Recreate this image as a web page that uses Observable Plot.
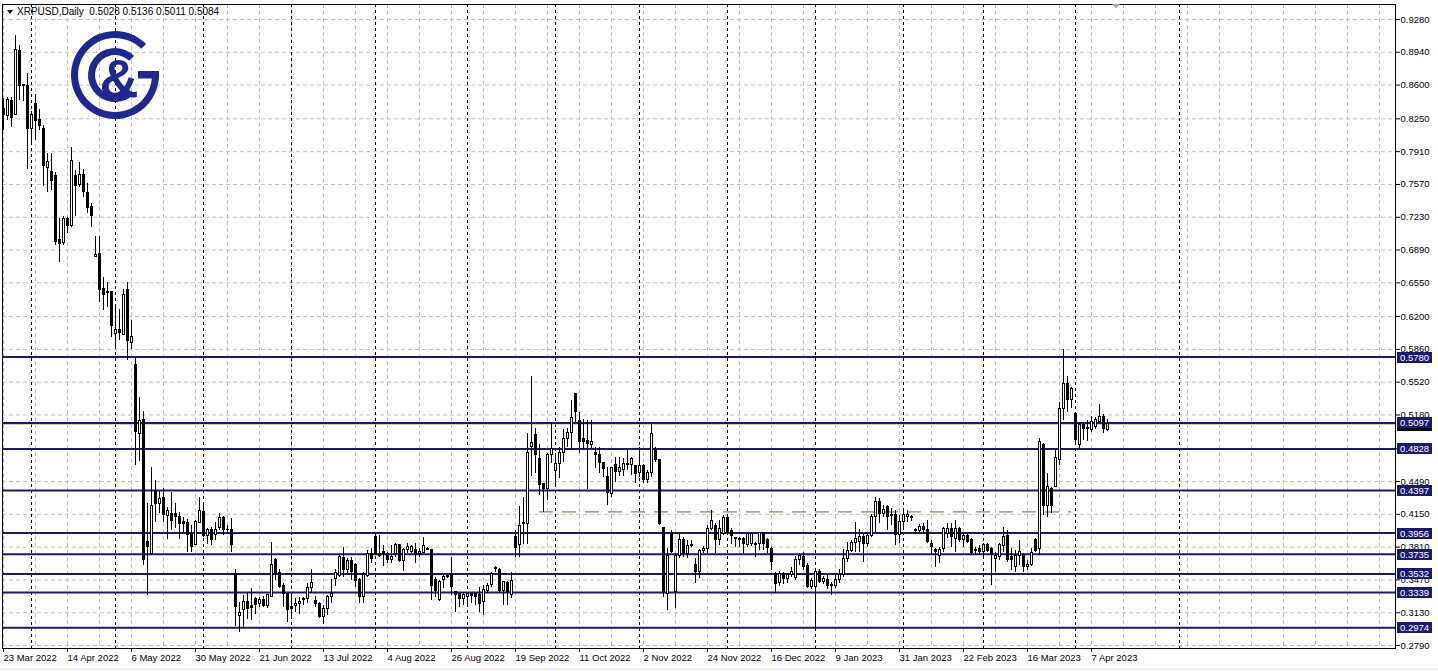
<!DOCTYPE html>
<html>
<head>
<meta charset="utf-8">
<script src="https://cdn.jsdelivr.net/npm/d3@7"></script>
<script src="https://cdn.jsdelivr.net/npm/@observablehq/plot@0.6"></script>
<style>
  html, body { margin: 0; padding: 0; background: #f0f0f0; }
  #chart svg { display: block; background: #ffffff; }
</style>
</head>
<body>
<div id="chart"></div>
<script>
// ---------- DATA ----------
const symbolTitle = "XRPUSD,Daily";
const lastBarOHLC = [0.5028, 0.5136, 0.5011, 0.5084];
const bidPrice = 0.5084;

const opens = [
  .8357,.8275,.8440,.8292,.8951,.8600,.8586,.8143,.8406,.8233,
  .8140,.7743,.7697,.7656,.6999,.6965,.7214,.7144,.7656,.7566,
  .7670,.7483,.7341,.6816,.6844,.6481,.6450,.6453,.6021,.6056,
  .6014,.6471,.5931,.5693,.4986,.5123,.3868,.3741,.4397,.4259,
  .4321,.4130,.4156,.4156,.4121,.4068,.4062,.3955,.3837,.4058,
  .4172,.3930,.3983,.3934,.4006,.4110,.3990,.3990,.3534,.3101,
  .3153,.3239,.3196,.3267,.3222,.3264,.3198,.3298,.3672,.3541,
  .3405,.3319,.3188,.3204,.3223,.3257,.3274,.3389,.3250,.3222,
  .3090,.3171,.3291,.3475,.3506,.3699,.3568,.3665,.3620,.3464,
  .3298,.3506,.3741,.3920,.3741,.3758,.3741,.3672,.3741,.3827,
  .3665,.3775,.3758,.3783,.3734,.3751,.3793,.3782,.3464,.3257,
  .3464,.3499,.3510,.3343,.3319,.3274,.3298,.3319,.3319,.3309,
  .3239,.3360,.3413,.3580,.3568,.3354,.3440,.3309,.3920,.3827,
  .4048,.4052,.4846,.4975,.4719,.4460,.4408,.4767,.4597,.4674,
  .4788,.4933,.4995,.5393,.5113,.4926,.4908,.4871,.4788,.4767,
  .4681,.4532,.4356,.4657,.4587,.4612,.4674,.4664,.4646,.4577,
  .4646,.4508,.4581,.4830,.4709,.4010,.3319,.3955,.3343,.3723,
  .3879,.3741,.3820,.3620,.3551,.3765,.3793,.4000,.4034,.3879,
  .3948,.4110,.3975,.3900,.3893,.3893,.3837,.3844,.3844,.3844,
  .3955,.3879,.3793,.3533,.3440,.3533,.3475,.3516,.3488,.3678,
  .3710,.3610,.3392,.3392,.3554,.3447,.3470,.3420,.3402,.3472,
  .3516,.3689,.3768,.3851,.3860,.3920,.3843,.3930,.4120,.4276,
  .4155,.4225,.4140,.4138,.3937,.4068,.4120,.4125,.3990,.3980,
  .4017,.3990,.3844,.3775,.3723,.3793,.3948,.4000,.3896,.4000,
  .3879,.3930,.3879,.3782,.3793,.3758,.3834,.3793,.3689,.3706,
  .3817,.3924,.3706,.3608,.3723,.3723,.3600,.3620,.3879,.3786,
  .4870,.4234,.4415,.4432,.4716,.5244,.5496,.5337,.5185,.4864,
  .5071,.5047,.5026,.5054,.5106,.5164,.5028
];
const highs = [
  .8461,.8475,.8475,.9114,.9011,.8610,.8717,.8326,.8503,.8347,
  .8181,.7888,.7894,.7691,.7214,.7238,.7231,.7950,.7715,.7801,
  .7722,.7577,.7369,.7034,.7034,.6602,.6550,.6460,.6298,.6270,
  .6478,.6551,.6160,.5779,.5358,.5216,.4259,.4639,.4501,.4390,
  .4415,.4224,.4380,.4266,.4172,.4121,.4096,.4034,.4086,.4321,
  .4249,.4006,.4017,.4068,.4162,.4128,.4034,.4104,.3575,.3239,
  .3309,.3343,.3378,.3291,.3291,.3298,.3323,.3861,.3689,.3582,
  .3430,.3333,.3309,.3274,.3291,.3291,.3430,.3575,.3298,.3239,
  .3205,.3309,.3475,.3575,.3724,.3810,.3689,.3706,.3644,.3481,
  .3550,.3775,.3793,.3948,.3930,.3827,.3758,.3827,.3844,.3837,
  .3793,.3844,.3830,.3844,.3793,.3910,.3810,.3782,.3499,.3464,
  .3516,.3520,.3699,.3343,.3343,.3343,.3330,.3333,.3326,.3396,
  .3412,.3430,.3550,.3610,.3590,.3457,.3457,.3550,.3982,.4232,
  .4328,.4985,.5579,.5037,.4874,.4467,.4778,.5089,.4778,.4847,
  .5026,.5037,.5330,.5406,.5209,.5130,.5120,.5123,.4847,.4847,
  .4691,.4633,.4639,.4743,.4743,.4726,.4830,.4743,.4657,.4840,
  .4667,.4605,.5081,.4847,.4709,.4017,.3800,.3982,.3741,.3965,
  .3913,.3879,.3879,.3689,.3782,.3820,.4034,.4190,.4052,.4086,
  .4138,.4113,.4000,.3913,.3913,.3910,.3948,.3965,.3855,.3965,
  .3965,.3900,.3810,.3550,.3560,.3550,.3540,.3600,.3717,.3741,
  .3751,.3637,.3482,.3582,.3580,.3510,.3530,.3444,.3530,.3580,
  .3790,.3860,.3879,.4068,.3990,.3948,.3950,.4150,.4328,.4311,
  .4240,.4242,.4207,.4190,.4138,.4190,.4190,.4140,.4000,.4040,
  .4052,.4086,.3879,.3793,.3810,.4017,.4050,.4052,.4086,.4017,
  .3948,.3948,.3896,.3810,.3827,.3844,.3844,.3810,.3758,.3844,
  .4017,.3982,.3793,.3775,.3879,.3741,.3672,.3793,.3896,.4933,
  .4881,.4570,.4432,.4830,.5313,.5856,.5579,.5468,.5209,.5089,
  .5106,.5123,.5164,.5154,.5289,.5185,.5136
];
const lows = [
  .8129,.8233,.8164,.8292,.8440,.8430,.7722,.7991,.8026,.8129,
  .7549,.7490,.7507,.6937,.6758,.6937,.7059,.7127,.7241,.7542,
  .7438,.7266,.7121,.6810,.6349,.6263,.6290,.5980,.5890,.5952,
  .6004,.5745,.5856,.4656,.4701,.3620,.3309,.3741,.4068,.4156,
  .4068,.3886,.3983,.4000,.3886,.3948,.3751,.3751,.3827,.4052,
  .3913,.3837,.3827,.3879,.3983,.3930,.3938,.3758,.2988,.2928,
  .2953,.3056,.3049,.3108,.3188,.3180,.3171,.3291,.3468,.3378,
  .3188,.3028,.3077,.3136,.3108,.3205,.3222,.3329,.3188,.3067,
  .3003,.3101,.3222,.3402,.3499,.3492,.3534,.3464,.3396,.3222,
  .3222,.3499,.3644,.3734,.3706,.3608,.3637,.3637,.3706,.3654,
  .3561,.3741,.3740,.3644,.3706,.3741,.3770,.3257,.3291,.3250,
  .3378,.3480,.3309,.3136,.3188,.3205,.3188,.3222,.3205,.3136,
  .3101,.3326,.3396,.3550,.3326,.3205,.3205,.3274,.3706,.3706,
  .3837,.3834,.4542,.4570,.4346,.4172,.4294,.4674,.4460,.4519,
  .4691,.4847,.4812,.5105,.4778,.4819,.4404,.4829,.4622,.4570,
  .4529,.4242,.4328,.4484,.4540,.4540,.4602,.4553,.4473,.4529,
  .4467,.4470,.4535,.4691,.4034,.3291,.3153,.3741,.3177,.3689,
  .3706,.3689,.3810,.3436,.3489,.3741,.3741,.3983,.3741,.3827,
  .3930,.3948,.3837,.3810,.3806,.3748,.3810,.3820,.3706,.3775,
  .3775,.3741,.3568,.3326,.3402,.3420,.3430,.3490,.3462,.3620,
  .3570,.3378,.3375,.2961,.3430,.3420,.3370,.3309,.3385,.3430,
  .3500,.3654,.3758,.3758,.3758,.3654,.3810,.3913,.3965,.4052,
  .4120,.3983,.4034,.3827,.3844,.3983,.4068,.4080,.3937,.3960,
  .3948,.3844,.3723,.3603,.3637,.3758,.3900,.3810,.3758,.3861,
  .3810,.3844,.3723,.3723,.3723,.3713,.3758,.3412,.3550,.3670,
  .3758,.3654,.3568,.3551,.3620,.3551,.3568,.3610,.3758,.3723,
  .4138,.4121,.4155,.4432,.4656,.5123,.5209,.5244,.4881,.4819,
  .4916,.4909,.5000,.5026,.5089,.4985,.5011
];
const closes = [
  .8285,.8448,.8261,.8966,.8586,.8590,.8143,.8285,.8226,.8174,
  .7759,.7801,.7604,.6971,.6955,.7214,.7144,.7808,.7552,.7673,
  .7490,.7324,.7248,.6840,.6471,.6429,.6440,.6101,.6056,.6028,
  .6426,.5945,.5990,.4999,.5113,.3672,.3810,.4232,.4259,.4311,
  .4148,.4180,.4086,.4121,.4052,.4052,.3938,.3810,.4068,.4183,
  .3930,.3990,.3879,.3990,.4110,.3990,.3983,.3827,.3188,.3129,
  .3246,.3171,.3180,.3212,.3264,.3198,.3309,.3620,.3534,.3396,
  .3319,.3153,.3171,.3219,.3246,.3274,.3389,.3441,.3222,.3090,
  .3171,.3291,.3326,.3544,.3706,.3568,.3665,.3551,.3457,.3298,
  .3516,.3741,.3689,.3741,.3720,.3741,.3679,.3706,.3827,.3665,
  .3775,.3810,.3810,.3734,.3758,.3817,.3782,.3402,.3360,.3447,
  .3499,.3510,.3396,.3309,.3274,.3309,.3319,.3300,.3291,.3222,
  .3367,.3412,.3533,.3590,.3354,.3444,.3346,.3454,.3803,.4034,
  .4065,.4788,.4892,.4768,.4449,.4408,.4767,.4830,.4674,.4788,
  .4926,.4995,.5151,.5209,.4905,.4898,.4881,.4902,.4760,.4681,
  .4615,.4366,.4629,.4587,.4629,.4674,.4664,.4719,.4570,.4646,
  .4508,.4581,.4985,.4709,.4052,.3343,.3723,.3758,.3723,.3879,
  .3741,.3820,.3837,.3551,.3765,.3790,.4000,.4086,.3886,.4000,
  .4110,.3955,.3930,.3890,.3886,.3841,.3941,.3948,.3837,.3955,
  .3841,.3796,.3654,.3430,.3533,.3475,.3516,.3557,.3678,.3717,
  .3606,.3392,.3462,.3554,.3447,.3478,.3402,.3402,.3472,.3526,
  .3689,.3768,.3851,.3896,.3913,.3844,.3930,.4120,.4276,.4155,
  .4200,.4121,.4130,.3937,.4068,.4138,.4138,.4115,.3980,.4020,
  .3990,.3861,.3810,.3758,.3775,.4000,.4000,.3913,.4000,.3879,
  .3930,.3861,.3747,.3772,.3758,.3834,.3768,.3741,.3723,.3827,
  .3913,.3672,.3672,.3723,.3758,.3603,.3624,.3747,.3765,.4898,
  .4234,.4432,.4234,.4736,.5244,.5503,.5337,.5451,.4916,.5071,
  .5037,.5037,.5106,.5123,.5164,.5037,.5084
];

// time axis (weekday bars, bar index 0 = 23 Mar 2022)
const dateLabels = ["23 Mar 2022","14 Apr 2022","6 May 2022","30 May 2022","21 Jun 2022",
  "13 Jul 2022","4 Aug 2022","26 Aug 2022","19 Sep 2022","11 Oct 2022","2 Nov 2022",
  "24 Nov 2022","16 Dec 2022","9 Jan 2023","31 Jan 2023","22 Feb 2023","16 Mar 2023","7 Apr 2023"];
const dateLabelBars = [0,16,32,48,64,80,96,112,128,144,160,176,192,208,224,240,256,272];
const monthStartBars = [7,28,50,72,93,116,138,159,181,203,225,245,268,294];
const gridStepBars = 8;
const lastVisibleBar = 348;

// price axis
const yTicks = [0.9280,0.8940,0.8600,0.8250,0.7910,0.7570,0.7230,0.6890,0.6550,0.6200,
  0.5860,0.5520,0.5180,0.4830,0.4490,0.4150,0.3810,0.3470,0.3130,0.2790];
const yDomain = [0.2759, 0.94355];

// horizontal support/resistance levels
const levels = [0.5780,0.5097,0.4828,0.4397,0.3956,0.3735,0.3532,0.3339,0.2974];

// green dashed line
const trendValue = 0.4175;
const trendFromBar = 134;
const trendToBar = 267;

// ---------- STYLE ----------
const FONT = '"Liberation Sans",Arial,sans-serif';
const FS = 9.5;
const NAVY = "#191970";
const LOGO = "#1f2790";
const GRID = "#c0c0c0";

const bars = d3.range(opens.length);
const gridBars = d3.range(0, lastVisibleBar, gridStepBars);
const labelOf = new Map(dateLabelBars.map((b, i) => [b, dateLabels[i]]));

function overlay(index, scales, values, dims) {
  const y = scales.y;
  const right = dims.width - dims.marginRight;
  const g = d3.create("svg:g")
    .attr("font-family", FONT).attr("font-size", FS).attr("text-anchor", "start");

  // bid (last close) label, partly hidden under level label
  g.append("rect").attr("x", right + 2).attr("y", Math.round(y(bidPrice)) - 4).attr("width", 35).attr("height", 11).attr("fill", "#000");
  // level labels
  for (const v of levels) {
    const yy = Math.round(y(v));
    g.append("rect").attr("x", right + 2).attr("y", yy - 5).attr("width", 35).attr("height", 11).attr("fill", NAVY);
    g.append("text").attr("x", right + 5).attr("y", yy + 0.5).attr("dy", "0.36em")
      .attr("text-anchor", "start").attr("fill", "#fff").text(v.toFixed(4));
  }

  // header
  g.append("path").attr("d", "M7,10L13,10L10,14Z").attr("fill", "#000");
  g.append("text").attr("x", 17).attr("y", 15).attr("text-anchor", "start").attr("font-size", 10)
    .attr("fill", "#000").attr("xml:space", "preserve").style("white-space", "pre")
    .text(symbolTitle + "  " + lastBarOHLC.map(d => d.toFixed(4)).join(" "));

  // chart shift marker
  g.append("path").attr("d", "M1112,4L1120,4L1116,8.5Z").attr("fill", "#a8a8a8");

  // logo
  const lg = g.append("g").attr("transform", "translate(115,75)").attr("fill", LOGO);
  const deg = Math.PI / 180;
  lg.append("path").attr("d", d3.arc()({innerRadius: 37, outerRadius: 44, startAngle: 90 * deg, endAngle: 405 * deg}));
  lg.append("rect").attr("x", 23).attr("y", -4).attr("width", 21).attr("height", 7.5);
  lg.append("path").attr("d", d3.arc()({innerRadius: 20, outerRadius: 27, startAngle: 146 * deg, endAngle: 405 * deg}));
  lg.append("text").attr("x", 4).attr("y", 22).attr("text-anchor", "middle")
    .attr("font-family", '"Liberation Sans",Arial,sans-serif').attr("font-weight", "bold").attr("font-size", 54).text("&");
  return g.node();
}

const chart = Plot.plot({
  width: 1438,
  height: 668,
  marginLeft: 2,
  marginRight: 43,
  marginTop: 4,
  marginBottom: 20,
  style: {fontFamily: FONT, fontSize: FS + "px", background: "#ffffff", color: "#000", overflow: "visible"},
  x: {type: "linear", domain: [-0.25, lastVisibleBar], axis: null},
  y: {type: "linear", domain: yDomain, axis: null},
  color: {type: "identity"},
  marks: [
    Plot.ruleY(yTicks, {stroke: GRID, strokeDasharray: "4,3"}),
    Plot.ruleX(gridBars, {stroke: GRID, strokeDasharray: "4,3"}),
    Plot.ruleX(monthStartBars, {stroke: "#000", strokeDasharray: "3,3"}),
    Plot.ruleY([bidPrice], {stroke: "#c0c0c0"}),
    Plot.ruleY([trendValue], {x1: () => trendFromBar, x2: () => trendToBar, stroke: "#3b8a24", strokeDasharray: "14,9"}),
    Plot.ruleY(levels, {stroke: NAVY, strokeWidth: 2}),
    Plot.ruleX(bars, {x: i => i, y1: i => lows[i], y2: i => highs[i], stroke: "#000", shapeRendering: "crispEdges"}),
    Plot.rect(bars, {
      x1: i => i - 0.25, x2: i => i + 0.25,
      y1: i => opens[i], y2: i => closes[i],
      fill: i => closes[i] >= opens[i] ? "#ffffff" : "#000000",
      stroke: "#000", strokeWidth: 1, shapeRendering: "crispEdges"
    }),
    Plot.axisX({ticks: dateLabelBars, tickFormat: d => labelOf.get(d), textAnchor: "start", tickSize: 4, tickPadding: 2, fontSize: FS}),
    Plot.axisY({anchor: "right", ticks: yTicks, tickFormat: d => d.toFixed(4), tickSize: 4, tickPadding: 1, fontSize: FS}),
    Plot.frame({stroke: "#000"}),
    overlay
  ]
});
document.getElementById("chart").appendChild(chart);
</script>
</body>
</html>
